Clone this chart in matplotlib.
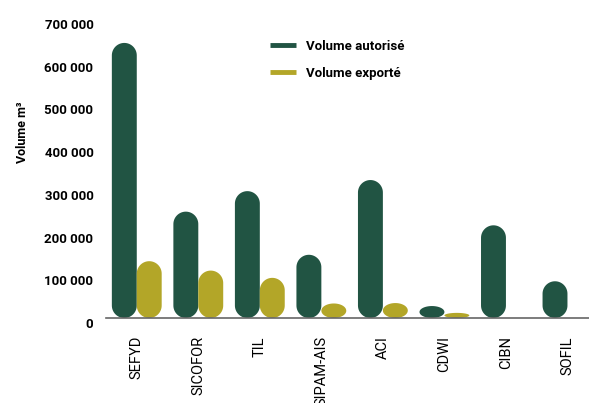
import matplotlib
matplotlib.use("Agg")
import matplotlib.pyplot as plt
import matplotlib.transforms as mtransforms
from matplotlib.patches import Polygon
from matplotlib.lines import Line2D
import numpy as np

# data
societes = ["SEFYD", "SICOFOR", "TIL", "SIPAM-AIS", "ACI", "CDWI", "CIBN", "SOFIL"]
volume_autorise = [644000, 249000, 297000, 148000, 323000, 28000, 217000, 86000]
volume_exporte = [133000, 111000, 94000, 34000, 35000, 12000, 0, 0]
y_ticks = [0, 100000, 200000, 300000, 400000, 500000, 600000, 700000]
y_tick_labels = ["0", "100 000", "200 000", "300 000", "400 000", "500 000", "600 000", "700 000"]

green = "#215443"
yellow = "#b3a628"

plt.rcParams['font.family'] = ['Roboto', 'DejaVu Sans']

fig = plt.figure(figsize=(5.89, 4.03), dpi=100)
ax = fig.add_axes([106 / 589, 85 / 403, 1 - 106 / 589, 299 / 403])
ax.set_xlim(-0.5, 7.35)
ax.set_ylim(0, 700000)

bar_w = 0.405
# data units per pixel, so the caps stay round on screen
px_x = (ax.get_xlim()[1] - ax.get_xlim()[0]) / (fig.get_figwidth() * fig.dpi * ax.get_position().width)
px_y = (ax.get_ylim()[1] - ax.get_ylim()[0]) / (fig.get_figheight() * fig.dpi * ax.get_position().height)


def pill(xc, h, color):
    if h <= 0:
        return
    rx = bar_w / 2
    ry = min(rx / px_x * px_y, h / 2)
    t = np.linspace(0, np.pi, 40)
    top = np.column_stack([xc + rx * np.cos(t), h - ry + ry * np.sin(t)])
    bot = np.column_stack([xc - rx * np.cos(t), ry - ry * np.sin(t)])
    ax.add_patch(Polygon(np.vstack([top, bot]), closed=True, facecolor=color,
                         edgecolor="none", zorder=2))


x = np.arange(len(societes))
for i in range(len(societes)):
    pill(x[i] - bar_w / 2, volume_autorise[i], green)
    pill(x[i] + bar_w / 2, volume_exporte[i], yellow)

ax.set_xticks(x)
ax.set_xticklabels(societes, rotation=90, fontsize=10.5, va="top")
ax.set_yticks(y_ticks)
ax.set_yticklabels(y_tick_labels, fontsize=9.5, fontweight="bold")
ax.tick_params(axis="both", length=0)
ax.tick_params(axis="x", pad=13)
ax.tick_params(axis="y", pad=9)
off = mtransforms.ScaledTranslation(0, -0.05, fig.dpi_scale_trans)
for lab in ax.get_yticklabels():
    lab.set_transform(lab.get_transform() + off)

for s in ["top", "right", "left"]:
    ax.spines[s].set_visible(False)
ax.spines["bottom"].set_color("#666666")
ax.spines["bottom"].set_linewidth(1.2)
ax.spines["bottom"].set_zorder(3)

fig.text(22 / 589, 1 - 132 / 403, "Volume m³", rotation=90, ha="center", va="center",
         fontsize=9, fontweight="bold")

handles = [Line2D([], [], color=green, lw=3.5, solid_capstyle="butt"),
           Line2D([], [], color=yellow, lw=3.5, solid_capstyle="butt")]
ax.legend(handles, ["Volume autorisé", "Volume exporté"], loc="upper left",
          bbox_to_anchor=(258 / 589, 1 - 28 / 403), bbox_transform=fig.transFigure,
          frameon=False, prop={"weight": "bold", "size": 9.5}, handlelength=2.0,
          handletextpad=0.75, labelspacing=1.05)

fig.savefig("out.png", dpi=100)
